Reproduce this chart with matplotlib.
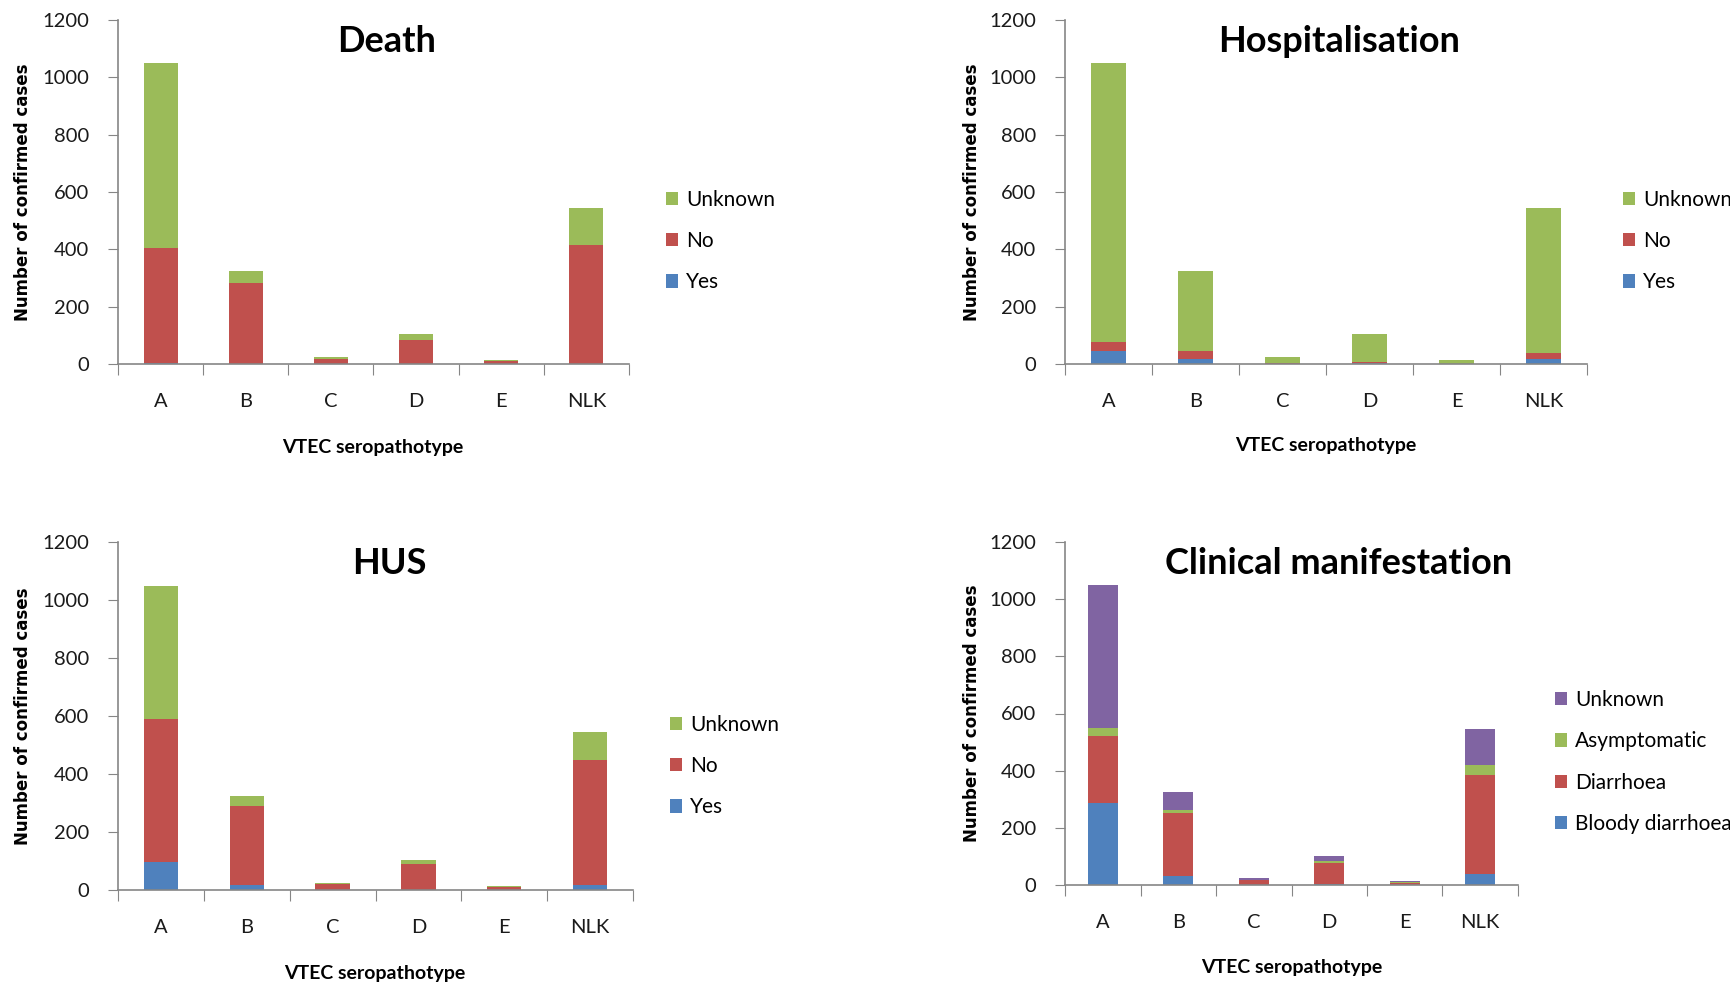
import matplotlib.pyplot as plt
import numpy as np

serotypes = ['A', 'B', 'C', 'D', 'E', 'NLK']

# Death outcome by seropathotype
death_yes = [5, 1, 0, 0, 0, 1]
death_no = [399, 281, 16, 82, 12, 414]
death_unknown = [645, 42, 7, 21, 3, 130]

# Hospitalisation
hosp_yes = [47, 16, 1, 5, 0, 16]
hosp_no = [30, 31, 1, 1, 1, 24]
hosp_unknown = [972, 277, 21, 97, 14, 505]

# Haemolytic uraemic syndrome
hus_yes = [96, 18, 1, 1, 0, 16]
hus_no = [492, 272, 20, 87, 9, 431]
hus_unknown = [461, 34, 2, 15, 6, 98]

# Clinical manifestation
clin_bloody = [287, 30, 1, 5, 1, 37]
clin_diarrhoea = [235, 222, 15, 72, 6, 348]
clin_asymp = [26, 12, 1, 7, 5, 35]
clin_unknown = [501, 60, 6, 19, 3, 125]

BLUE, RED, GREEN, PURPLE = '#4F81BD', '#C0504D', '#9BBB59', '#8064A2'
AXIS_GREY = '#868686'

W, H = 1731, 984
fig = plt.figure(figsize=(W / 100, H / 100), dpi=100)
plt.rcParams['font.family'] = ['Lato', 'DejaVu Sans']


def fx(x):
    return x / W


def fy(y):
    return 1 - y / H


def panel(box, title, title_xy, xlabel_xy, ylabel_x, series, legend_xy):
    left, top, right, bottom = box
    ax = fig.add_axes([fx(left), fy(bottom), (right - left) / W, (bottom - top) / H])
    x = np.arange(len(serotypes))
    base = np.zeros(len(serotypes))
    handles = []
    for label, vals, col in series:
        b = ax.bar(x, vals, width=0.4, bottom=base, color=col, label=label, zorder=2)
        base = base + np.array(vals)
        handles.append(b)
    ax.set_xlim(-0.5, len(serotypes) - 0.5)
    ax.set_ylim(0, 1200)
    ax.set_yticks(np.arange(0, 1201, 200))
    ax.set_xticks(np.arange(-0.5, len(serotypes), 1))
    ax.set_xticklabels([])
    ax.set_xticks(x, minor=True)
    ax.set_xticklabels(serotypes, minor=True)
    ax.tick_params(axis='x', which='major', direction='out', length=8, color=AXIS_GREY)
    ax.tick_params(axis='x', which='minor', length=0, pad=21, labelsize=14.5, labelcolor='#1a1a1a')
    ax.tick_params(axis='y', direction='out', length=7, color=AXIS_GREY, pad=14,
                   labelsize=14.5, labelcolor='#1a1a1a')
    for s in ['top', 'right']:
        ax.spines[s].set_visible(False)
    for s in ['left', 'bottom']:
        ax.spines[s].set_color(AXIS_GREY)
        ax.spines[s].set_linewidth(1.2)
    ax.patch.set_alpha(0)

    fig.text(fx(title_xy[0]), fy(title_xy[1]), title, ha='center', va='center',
             fontsize=26, fontweight='bold')
    fig.text(fx(xlabel_xy[0]), fy(xlabel_xy[1]), 'VTEC seropathotype', ha='center',
             va='center', fontsize=14, fontweight='bold')
    fig.text(fx(ylabel_x), fy((top + bottom) / 2), 'Number of confirmed cases',
             ha='center', va='center', rotation=90, fontsize=12, fontweight='bold',
             family='DejaVu Sans')

    fig.legend(handles[::-1], [h.get_label() for h in handles[::-1]],
               loc='center left', bbox_to_anchor=(fx(legend_xy[0]), fy(legend_xy[1])),
               frameon=False, fontsize=15, handlelength=0.6, handleheight=0.6,
               handletextpad=0.35, labelspacing=1.02, borderpad=0, borderaxespad=0)
    return ax


panel((118, 20, 629, 364), 'Death', (387, 41), (373, 447), 23,
      [('Yes', death_yes, BLUE), ('No', death_no, RED), ('Unknown', death_unknown, GREEN)],
      (666, 241))
panel((1065, 20, 1587, 364), 'Hospitalisation', (1339, 41), (1326, 446), 972,
      [('Yes', hosp_yes, BLUE), ('No', hosp_no, RED), ('Unknown', hosp_unknown, GREEN)],
      (1623, 241))
panel((118, 542, 633, 890), 'HUS', (389, 564), (375, 973), 23,
      [('Yes', hus_yes, BLUE), ('No', hus_no, RED), ('Unknown', hus_unknown, GREEN)],
      (670, 766))
panel((1065, 542, 1518, 885), 'Clinical manifestation', (1339, 564), (1292, 967), 972,
      [('Bloody diarrhoea', clin_bloody, BLUE), ('Diarrhoea', clin_diarrhoea, RED),
       ('Asymptomatic', clin_asymp, GREEN), ('Unknown', clin_unknown, PURPLE)],
      (1555, 762))

fig.savefig('out.png', dpi=100)
